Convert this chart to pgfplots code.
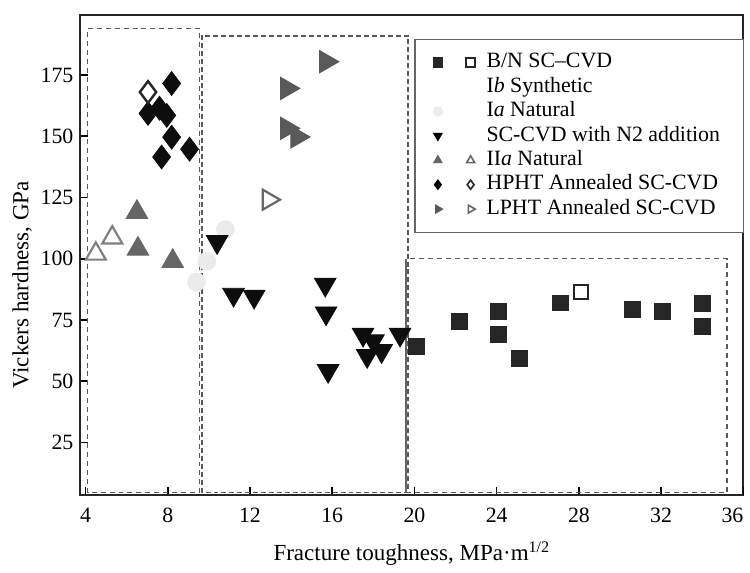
\documentclass[border=0pt]{standalone}
\usepackage{fontspec}
\setmainfont{Liberation Serif}
\usepackage{pgfplots}
\pgfplotsset{compat=1.18}

% legend image with a filled and an open marker
\pgfplotsset{
  twomarks/.style 2 args={legend image code/.code={
      \path[draw=none, fill=none] (-4pt,-3pt) rectangle (22.5pt,3pt);
      \draw[mark size=2.3pt,#1] plot coordinates {(0pt,0pt)};
      \draw[mark size=2.3pt,#2] plot coordinates {(16.5pt,0pt)};
  }},
  onemark/.style={legend image code/.code={
      \path[draw=none, fill=none] (-4pt,-3pt) rectangle (22.5pt,3pt);
      \draw[mark size=2.3pt,#1] plot coordinates {(0pt,0pt)};
  }},
  nomark/.style={legend image code/.code={
      \path[draw=none, fill=none] (-4pt,-3pt) rectangle (22.5pt,3pt);
  }},
}

\begin{document}
\begin{tikzpicture}
\begin{axis}[
    scale only axis,
    width=334pt, height=242pt,
    xmin=3.75, xmax=36, ymin=3.5, ymax=199.5,
    xtick={4,8,...,32}, ytick={25,50,...,175},
    extra x ticks={36}, extra x tick labels={36},
    extra x tick style={xticklabel style={xshift=-5.5pt}},
    xtick pos=left, ytick pos=left,
    tick align=inside,
    major tick length=4pt,
    tick style={line width=0.8pt, black},
    axis line style={line width=1pt, black!85},
    font=\fontsize{11}{13}\selectfont,
    /pgf/number format/assume math mode=true,
    xticklabel style={yshift=-3pt},
    xlabel={Fracture toughness, MPa·m\textsuperscript{1/2}},
    ylabel={Vickers hardness, GPa},
    xlabel style={yshift=-2.5pt, font=\fontsize{11.6}{13}\selectfont},
    ylabel style={at={(ticklabel cs:0.438)}, yshift=-2.5pt, font=\fontsize{11.6}{13}\selectfont},
    legend style={at={(axis cs:20.0,189.7)}, anchor=north west,
        draw=black!60, line width=0.6pt, fill=white,
        font=\fontsize{11}{13}\selectfont,
        inner xsep=7.5pt, inner ysep=5.5pt, row sep=0pt,
        nodes={inner ysep=0.5pt, text height=8.3pt, text depth=3pt}},
    legend cell align=left,
]

% dashed region boxes
\draw[dashed, black!65, line width=0.7pt, dash pattern=on 2.5pt off 2pt]
    (axis cs:4.1,4.6) rectangle (axis cs:9.55,194);
\draw[dashed, black!65, line width=0.9pt, dash pattern=on 2.5pt off 1.5pt]
    (axis cs:9.65,4.6) rectangle (axis cs:19.7,191);
\draw[dashed, black!65, line width=0.7pt, dash pattern=on 2.5pt off 2pt]
    (axis cs:19.6,4.6) -- (axis cs:35.2,4.6) -- (axis cs:35.2,100) -- (axis cs:19.6,100);
\draw[black!60, line width=0.8pt] (axis cs:19.6,4.6) -- (axis cs:19.6,100);

% Ia Natural (very faint)
\addplot[only marks, mark=*, mark size=4.5pt, color=black!8, forget plot] coordinates {
    (10.8,111.9) (9.9,99) (9.4,90.5)
};

% B/N SC-CVD
\addplot[only marks, mark=square*, mark size=4pt, color=black!85, forget plot] coordinates {
    (20.1,64.2) (22.2,74.3) (24.1,78.4) (24.1,69.0) (25.1,59.4)
    (27.1,82.0) (30.6,79.3) (32.05,78.4) (34.0,81.7) (34.0,72.3)
};
\addplot[only marks, mark=square, mark size=3.6pt, line width=1.2pt, color=black!85, forget plot] coordinates {
    (28.1,86.4)
};

% SC-CVD with N2 addition
\addplot[only marks, mark=triangle*, mark size=6.3pt, mark options={rotate=180}, color=black!95, forget plot] coordinates {
    (10.4,106.9) (11.2,85.4) (12.2,84.6) (15.66,89.5) (15.7,77.8)
    (15.8,54.3) (17.5,69.1) (18.0,66.4) (17.7,60.4) (18.4,62.4) (19.3,69.1)
};

% IIa Natural
\addplot[only marks, mark=triangle*, mark size=6.3pt, color=black!60, forget plot] coordinates {
    (6.5,119) (6.55,104) (8.24,99)
};
\addplot[only marks, mark=triangle, mark size=5.8pt, line width=1.1pt, color=black!50, forget plot] coordinates {
    (5.3,108.6) (4.5,102)
};

% HPHT annealed SC-CVD
\addplot[only marks, mark=diamond*, mark size=6pt, color=black!95, forget plot] coordinates {
    (8.19,171.5) (7.04,159.3) (7.6,161.4) (7.95,158.5)
    (8.19,149.6) (9.06,144.7) (7.7,141.5)
};
\addplot[only marks, mark=diamond, mark size=5.5pt, line width=1.2pt, color=black!85, forget plot] coordinates {
    (7.04,168.0)
};

% LPHT annealed SC-CVD
\addplot[only marks, mark=triangle*, mark size=6.5pt, mark options={rotate=-90}, color=black!65, forget plot] coordinates {
    (15.7,180.4) (13.8,169.5) (13.8,153.2) (14.3,149.7)
};
\addplot[only marks, mark=triangle, mark size=5.8pt, mark options={rotate=-90}, line width=1.1pt, color=black!60, forget plot] coordinates {
    (12.9,124.1)
};

% legend
\addlegendimage{twomarks={mark=square*,black!85}{mark=square,black!85,line width=0.8pt}}
\addlegendentry{B/N SC–CVD}
\addlegendimage{nomark}
\addlegendentry{I\textit{b} Synthetic}
\addlegendimage{onemark={mark=*,black!8}}
\addlegendentry{I\textit{a} Natural}
\addlegendimage{onemark={mark=triangle*,black,mark options={rotate=180}}}
\addlegendentry{SC-CVD with N2 addition\hspace*{2.5pt}}
\addlegendimage{twomarks={mark=triangle*,black!60}{mark=triangle,black!60,line width=0.8pt}}
\addlegendentry{II\textit{a} Natural}
\addlegendimage{twomarks={mark=diamond*,black}{mark=diamond,black!85,line width=0.8pt}}
\addlegendentry{HPHT Annealed SC-CVD}
\addlegendimage{twomarks={mark=triangle*,black!65,mark options={rotate=-90}}{mark=triangle,black!60,line width=0.8pt,mark options={rotate=-90}}}
\addlegendentry{LPHT Annealed SC-CVD}

\end{axis}
% page margins around the axis, as in the reference
\node[inner sep=0pt] at ([shift={(-40pt,-35pt)}]current axis.south west) {};
\node[inner sep=0pt] at ([shift={(1pt,7pt)}]current axis.north east) {};
\end{tikzpicture}
\end{document}
